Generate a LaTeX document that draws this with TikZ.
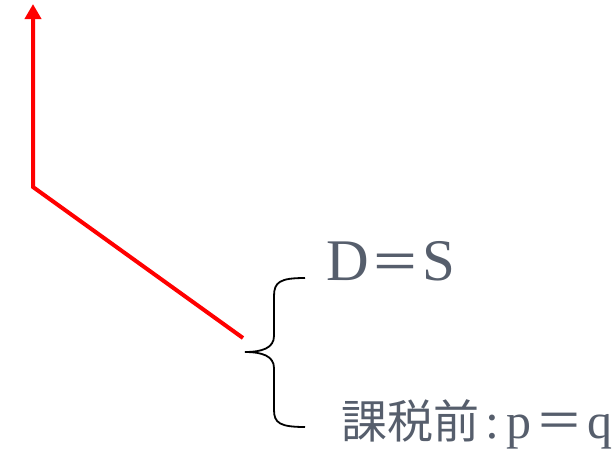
\documentclass[tikz,border=0pt]{standalone}
\usepackage{fontspec}
\setmainfont{Liberation Serif}
\newfontfamily\cjk{Noto Sans CJK JP}
\usetikzlibrary{arrows.meta}
\definecolor{labelgray}{HTML}{565E6C}
\tikzset{
  redpath/.style={draw=red, line width=4pt, -{Triangle[length=15pt,width=16pt]}},
  bracepath/.style={draw=black, line width=1.8pt},
  eqlabel/.style={text=labelgray, inner sep=0pt, anchor=base west}
}
\begin{document}
\begin{tikzpicture}[x=1pt,y=-1pt]
  \useasboundingbox (0,0) rectangle (615,455);
  % red path with arrow
  \coordinate (start) at (243,338);
  \coordinate (corner) at (33,187);
  \coordinate (tip) at (33,4);
  \draw[redpath] (start) -- (corner) -- (tip);
  % curly brace
  \coordinate (btop) at (305,278);
  \coordinate (bmid) at (245,352);
  \coordinate (bbot) at (305,427);
  \draw[bracepath] (btop) .. controls (280,278) and (274,282) .. (274,296)
    -- (274,336) .. controls (274,348) and (262,352) .. (bmid)
    .. controls (262,352) and (274,356) .. (274,368)
    -- (274,410) .. controls (274,423) and (280,427) .. (bbot);
  % labels
  \node[eqlabel] (ds) at (326,280)
    {\fontsize{59}{59}\selectfont D\hspace{2pt}{\cjk\fontsize{50}{50}\selectfont ＝}\hspace{2pt}S};
  \node[eqlabel] (pq) at (341,438)
    {{\cjk\fontsize{46}{46}\selectfont 課税前}\fontsize{50}{50}\selectfont \hspace{6pt}:\hspace{7pt}p\hspace{4pt}{\cjk\fontsize{48}{48}\selectfont ＝}\hspace{4pt}q};
\end{tikzpicture}
\end{document}
